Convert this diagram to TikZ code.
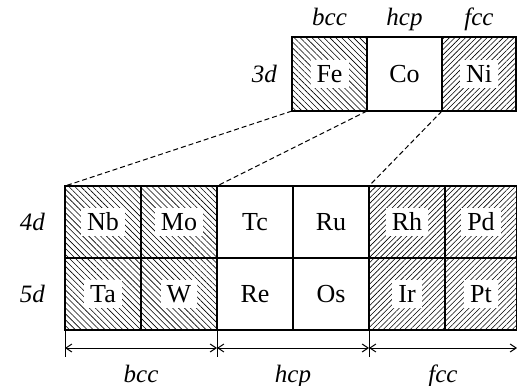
\documentclass[tikz,border=0pt]{standalone}
\usepackage{fontspec}
\setmainfont{Liberation Serif}
\usetikzlibrary{arrows.meta,calc,positioning,patterns.meta}

\tikzset{
  cell/.style={draw,line width=0.6pt,minimum width=38pt,minimum height=36pt,outer sep=0pt,inner sep=0pt},
  bccfill/.style={cell,pattern={Lines[angle=-45,distance=2.1pt,line width=0.3pt]}},
  fccfill/.style={cell,pattern={Lines[angle=45,distance=1.9pt,line width=0.3pt]}},
  hcpfill/.style={cell},
  tag/.style={fill=white,inner xsep=3pt,inner ysep=2.5pt,text height=8.8pt,text depth=0pt,font=\fontsize{13}{15}\selectfont},
  lattice/.style={font=\fontsize{12.5}{15}\selectfont\itshape},
  dimline/.style={line width=0.5pt,{Straight Barb[length=3pt,width=4pt]}-{Straight Barb[length=3pt,width=4pt]}},
  zoomline/.style={line width=0.5pt,dash pattern=on 2.5pt off 1.5pt}
}

\begin{document}
\begin{tikzpicture}[x=0.5pt,y=0.5pt]
\useasboundingbox (0,0) rectangle (517,385);

% 3d row
\node[bccfill,minimum width=37.5pt,minimum height=37pt] (Fe) at (329.5,311) {};
\node[hcpfill,minimum width=37.5pt,minimum height=37pt,right=0pt of Fe] (Co) {};
\node[fccfill,minimum width=37pt,minimum height=37pt,right=0pt of Co] (Ni) {};

% 4d and 5d rows
\node[bccfill] (Nb) at (103,163) {};
\node[bccfill,right=0pt of Nb] (Mo) {};
\node[hcpfill,right=0pt of Mo] (Tc) {};
\node[hcpfill,right=0pt of Tc] (Ru) {};
\node[fccfill,right=0pt of Ru] (Rh) {};
\node[fccfill,minimum width=36pt,right=0pt of Rh] (Pd) {};
\node[bccfill,below=0pt of Nb] (Ta) {};
\node[bccfill,below=0pt of Mo] (W) {};
\node[hcpfill,below=0pt of Tc] (Re) {};
\node[hcpfill,below=0pt of Ru] (Os) {};
\node[fccfill,below=0pt of Rh] (Ir) {};
\node[fccfill,minimum width=36pt,below=0pt of Pd] (Pt) {};

% element names
\foreach \el in {Fe,Co,Ni,Nb,Mo,Tc,Ru,Rh,Pd,Ta,W,Re,Os,Ir,Pt}
  \node[tag] (t\el) at (\el) {\el};

% row and lattice labels
\node[lattice,left=4pt of Fe] (l3d) {3d};
\node[lattice,left=6.5pt of Nb] (l4d) {4d};
\node[lattice,left=6.5pt of Ta] (l5d) {5d};
\node[lattice,anchor=base] (topbcc) at ($(Fe.north)+(0,11)$) {bcc};
\node[lattice,anchor=base] (tophcp) at ($(Co.north)+(0,11)$) {hcp};
\node[lattice,anchor=base] (topfcc) at ($(Ni.north)+(0,11)$) {fcc};

% zoom lines
\draw[zoomline] (Fe.south west) -- (Nb.north west);
\draw[zoomline] (Co.south west) -- (Tc.north west);
\draw[zoomline] (Ni.south west) -- (Rh.north west);

% dimension ticks and arrows
\coordinate (k1) at ($(Ta.south west)+(0,-27)$);
\coordinate (k2) at ($(Re.south west)+(0,-27)$);
\coordinate (k3) at ($(Ir.south west)+(0,-27)$);
\draw[line width=0.5pt] (Ta.south west) -- (k1);
\draw[line width=0.5pt] (Re.south west) -- (k2);
\draw[line width=0.5pt] (Ir.south west) -- (k3);
\coordinate (a1) at ($(Ta.south west)+(0,-18)$);
\coordinate (a2) at ($(Re.south west)+(0,-18)$);
\coordinate (a3) at ($(Ir.south west)+(0,-18)$);
\coordinate (a4) at ($(Pt.south east)+(0,-18)$);
\draw[dimline] (a1) -- node[lattice,anchor=base,yshift=-17pt] (botbcc) {bcc} (a2);
\draw[dimline] (a2) -- node[lattice,anchor=base,yshift=-17pt] (bothcp) {hcp} (a3);
\draw[dimline] (a3) -- node[lattice,anchor=base,yshift=-17pt] (botfcc) {fcc} (a4);
\end{tikzpicture}
\end{document}
